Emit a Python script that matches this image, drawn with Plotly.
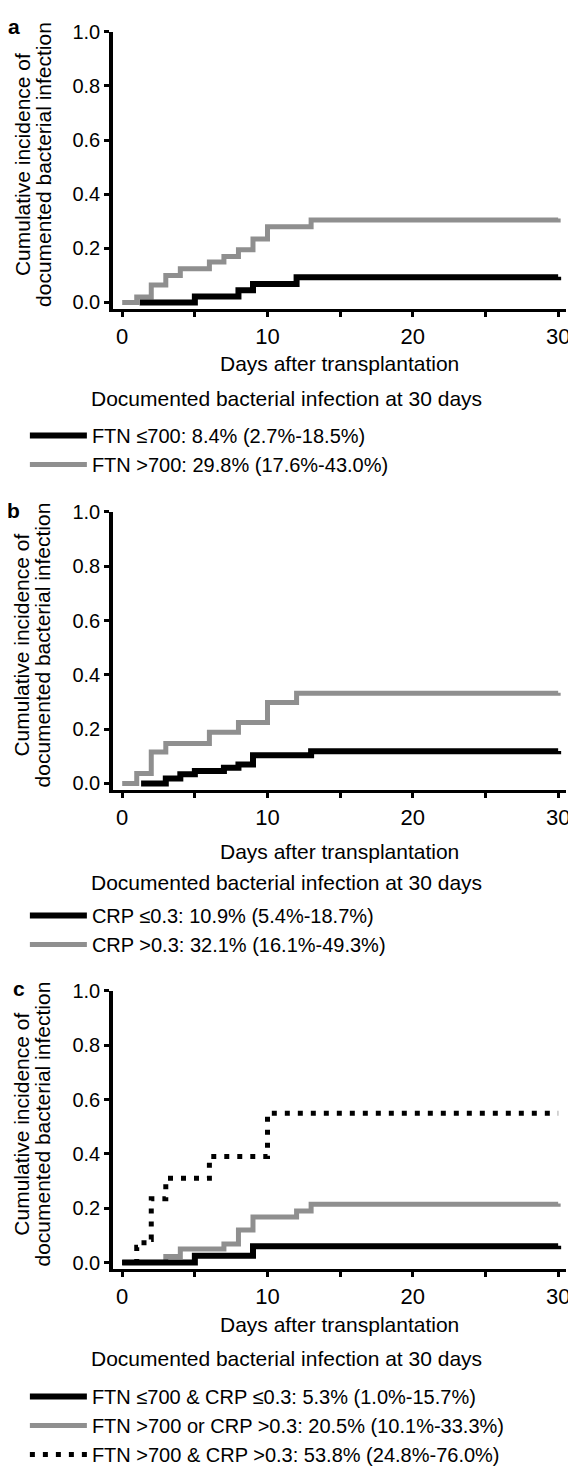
import plotly.graph_objects as go

W, H = 576, 1466
OFF = 8  # page body margin of the html page

# ---------------- data ----------------
# panel a
a_low_x = [1.2, 5, 8, 9, 12, 30]
a_low_y = [0.0, 0.022, 0.045, 0.068, 0.093, 0.095]
a_high_x = [0, 1, 2, 3, 4, 6, 7, 8, 9, 10, 13, 30]
a_high_y = [0.0, 0.02, 0.065, 0.10, 0.125, 0.15, 0.17, 0.195, 0.235, 0.28, 0.305, 0.31]
a_names = ["FTN \u2264700: 8.4% (2.7%-18.5%)", "FTN >700: 29.8% (17.6%-43.0%)"]

# panel b
b_low_x = [1.3, 3, 4, 5, 7, 8, 9, 13, 30]
b_low_y = [0.0, 0.018, 0.034, 0.046, 0.058, 0.07, 0.104, 0.119, 0.12]
b_high_x = [0, 1, 2, 3, 6, 8, 10, 12, 30]
b_high_y = [0.0, 0.037, 0.116, 0.147, 0.189, 0.225, 0.298, 0.332, 0.334]
b_names = ["CRP \u22640.3: 10.9% (5.4%-18.7%)", "CRP >0.3: 32.1% (16.1%-49.3%)"]

# panel c
c_low_x = [0, 5, 9, 30]
c_low_y = [0.0, 0.025, 0.06, 0.062]
c_mid_x = [0, 3, 4, 7, 8, 9, 12, 13, 30]
c_mid_y = [0.0, 0.022, 0.05, 0.068, 0.12, 0.168, 0.19, 0.215, 0.217]
c_high_x = [0, 1, 1.5, 2, 3, 6, 10, 30]
c_high_y = [0.0, 0.056, 0.085, 0.235, 0.31, 0.39, 0.55, 0.55]
c_names = ["FTN \u2264700 & CRP \u22640.3: 5.3% (1.0%-15.7%)",
           "FTN >700 or CRP >0.3: 20.5% (10.1%-33.3%)",
           "FTN >700 & CRP >0.3: 53.8% (24.8%-76.0%)"]

x_ticks = [0, 5, 10, 15, 20, 25, 30]
x_ticktext = ["0", "", "10", "", "20", "", "30"]
y_ticks = [0, 0.2, 0.4, 0.6, 0.8, 1.0]

panel_letters = ["a", "b", "c"]
x_title = "Days after transplantation"
heading = "Documented bacterial infection at 30 days"
y_title_1 = "Cumulative incidence of"
y_title_2 = "documented bacterial infection"

# ---------------- style / layout ----------------
FONT = "Liberation Sans, Arial, Helvetica, sans-serif"
BLACK = "#000000"
GRAY = "#8f8f8f"

# screen-pixel geometry of each panel: (px of 1.0, px of 0.0, px of x-axis line)
panels = [(21, 295, 302), (507, 782, 789), (992, 1267, 1274)]
x_left_px, x_zero_px, x_30_px, x_right_px = 114, 123, 562, 570
px_per_day = (x_30_px - x_zero_px) / 30.0
x_range = [-(x_zero_px - x_left_px) / px_per_day, 30 + (x_right_px - x_30_px) / px_per_day]

def px_x(p):
    return (p - OFF) / W

def px_y(p):
    return 1 - (p - OFF) / H

fig = go.Figure()

series = [
    [(a_high_x, a_high_y, "gray", a_names[1], 2), (a_low_x, a_low_y, "black", a_names[0], 1)],
    [(b_high_x, b_high_y, "gray", b_names[1], 2), (b_low_x, b_low_y, "black", b_names[0], 1)],
    [(c_mid_x, c_mid_y, "gray", c_names[1], 2), (c_low_x, c_low_y, "black", c_names[0], 1),
     (c_high_x, c_high_y, "dot", c_names[2], 3)],
]

styles = {
    "black": dict(color=BLACK, width=6),
    "gray": dict(color=GRAY, width=5),
    "dot": dict(color=BLACK, width=5, dash="5px,8px"),
}

legend_tops = [410, 896, 1383]
x_title_y = [357, 851, 1330]
heading_y = [392, 882, 1364]
letter_pos = [(14, 16), (14, 506), (19, 990)]

for i, (top, zero, bottom) in enumerate(panels):
    suffix = "" if i == 0 else str(i + 1)
    px_per_unit = zero - top
    y_min = -(bottom - zero) / px_per_unit
    lg = "legend" + suffix
    for xs, ys, kind, name, rank in series[i]:
        fig.add_trace(go.Scatter(
            x=xs, y=ys, mode="lines", line=dict(shape="hv", **styles[kind]),
            name=name, legendrank=rank,
            xaxis="x" + suffix, yaxis="y" + suffix, legend=lg,
        ))
    fig.update_layout(**{
        "xaxis" + suffix: dict(
            domain=[px_x(x_left_px), px_x(x_right_px)], anchor="y" + suffix,
            range=x_range, showgrid=False, zeroline=False,
            showline=True, linecolor=BLACK, linewidth=3,
            ticks="outside", ticklen=5, tickwidth=3, tickcolor=BLACK,
            tickvals=x_ticks, ticktext=x_ticktext,
            tickfont=dict(family=FONT, size=22, color=BLACK),
            ticklabelstandoff=0,
        ),
        "yaxis" + suffix: dict(
            domain=[px_y(bottom), px_y(top)], anchor="x" + suffix,
            range=[y_min, 1.0], showgrid=False, zeroline=False,
            showline=True, linecolor=BLACK, linewidth=4,
            ticks="outside", ticklen=5, tickwidth=3, tickcolor=BLACK,
            tickvals=y_ticks, tickformat=".1f",
            tickfont=dict(family=FONT, size=20, color=BLACK),
            ticklabelstandoff=0,
        ),
        lg: dict(
            x=px_x(25), y=px_y(legend_tops[i]), xanchor="left", yanchor="top",
            bgcolor="rgba(0,0,0,0)", borderwidth=0,
            font=dict(family=FONT, size=20, color=BLACK),
            itemwidth=57, tracegroupgap=0, traceorder="normal",
        ),
    })
    mid = (top + zero) / 2 - 3
    ann = [
        dict(text="<b>" + panel_letters[i] + "</b>", x=px_x(letter_pos[i][0]), y=px_y(letter_pos[i][1]),
             font=dict(family=FONT, size=21, color=BLACK), xanchor="center", yanchor="middle"),
        dict(text=y_title_1, x=px_x(22), y=px_y(mid), textangle=-90,
             font=dict(family=FONT, size=21, color=BLACK), xanchor="center", yanchor="middle"),
        dict(text=y_title_2, x=px_x(43), y=px_y(mid), textangle=-90,
             font=dict(family=FONT, size=21, color=BLACK), xanchor="center", yanchor="middle"),
        dict(text=x_title, x=px_x((x_left_px + x_right_px) / 2), y=px_y(x_title_y[i]),
             font=dict(family=FONT, size=21, color=BLACK), xanchor="center", yanchor="middle"),
        dict(text=heading, x=px_x(90), y=px_y(heading_y[i]),
             font=dict(family=FONT, size=21, color=BLACK), xanchor="left", yanchor="middle"),
    ]
    for a in ann:
        fig.add_annotation(xref="paper", yref="paper", showarrow=False, **a)

fig.update_layout(
    width=W, height=H, margin=dict(l=0, r=0, t=0, b=0),
    paper_bgcolor="white", plot_bgcolor="white", showlegend=True,
)

fig.write_html("out.html")
